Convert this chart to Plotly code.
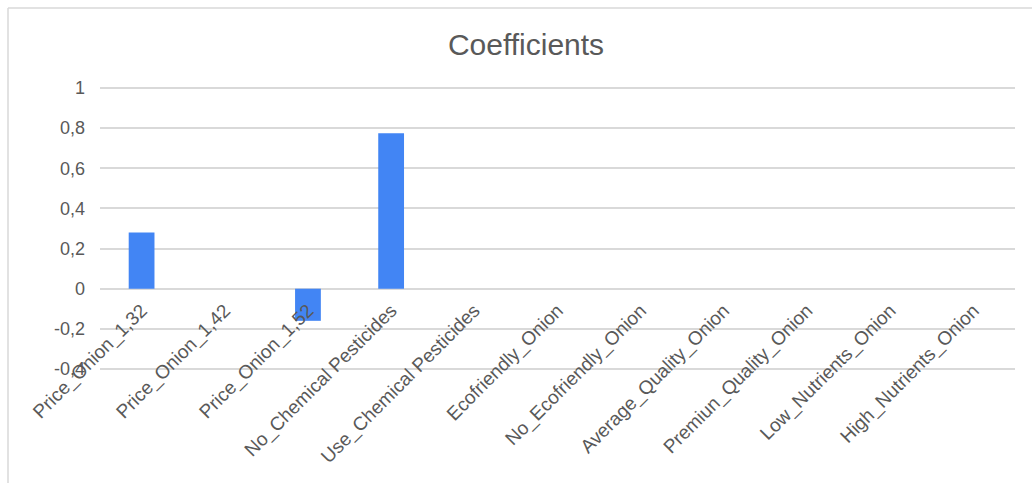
import plotly.graph_objects as go

categories = ["Price_Onion_1,32", "Price_Onion_1,42", "Price_Onion_1,52",
              "No_Chemical Pesticides", "Use_Chemical Pesticides", "Ecofriendly_Onion",
              "No_Ecofriendly_Onion", "Average_Quality_Onion", "Premiun_Quality_Onion",
              "Low_Nutrients_Onion", "High_Nutrients_Onion"]
coefficients = [0.28, 0, -0.16, 0.775, 0, 0, 0, 0, 0, 0, 0]
y_ticks = [-0.4, -0.2, 0, 0.2, 0.4, 0.6, 0.8, 1]
y_tick_labels = ["-0,4", "-0,2", "0", "0,2", "0,4", "0,6", "0,8", "1"]

W, H = 1032, 483
ymin, ymax = -0.4, 1.0
pad = 0.015                      # data units (200 px per unit)
pad_px = pad * 200
L, R = 100, 17
T, B = 88 - pad_px, 114 - pad_px
font = "Liberation Sans, Arial, sans-serif"
grey = "#595959"

fig = go.Figure(go.Bar(x=categories, y=coefficients, marker_color="#4285F4",
                       marker_line_width=0, width=0.31))

pw = W - L - R
ph = H - T - B
y0_frac = (0 - (ymin - pad)) / ((ymax + pad) - (ymin - pad))
fig.update_layout(
    width=W, height=H,
    margin=dict(l=L, r=R, t=T, b=B, autoexpand=False),
    paper_bgcolor="white", plot_bgcolor="white",
    showlegend=False,
    title=dict(text="Coefficients", x=526 / W, xref="container", xanchor="center",
               y=1 - 44 / H, yref="container", yanchor="middle",
               font=dict(family=font, size=30, color=grey)),
    font=dict(family=font, size=18, color=grey),
    xaxis=dict(anchor="free", position=y0_frac,
               tickangle=-45, showgrid=False, showline=False, zeroline=False,
               ticks="", automargin=False, ticklabelstandoff=6,
               tickfont=dict(family=font, size=19, color=grey)),
    yaxis=dict(range=[ymin - pad, ymax + pad], tickvals=y_ticks, ticktext=y_tick_labels,
               showgrid=True, gridcolor="#d9d9d9", gridwidth=1.6,
               zeroline=True, zerolinecolor="#d9d9d9", zerolinewidth=1.6,
               showline=False, ticks="", ticklabelstandoff=14, automargin=False,
               tickfont=dict(family=font, size=18, color=grey)),
    shapes=[
        dict(type="line", xref="paper", yref="paper",
             x0=(8 - L) / pw, x1=(W + 5 - L) / pw,
             y0=(H - B - 8) / ph, y1=(H - B - 8) / ph,
             line=dict(color="#d9d9d9", width=1.5)),
        dict(type="line", xref="paper", yref="paper",
             x0=(8 - L) / pw, x1=(8 - L) / pw,
             y0=(H - B - 8) / ph, y1=(H - B - H - 5) / ph,
             line=dict(color="#d9d9d9", width=1.5)),
    ],
)

fig.write_html("out.html")
